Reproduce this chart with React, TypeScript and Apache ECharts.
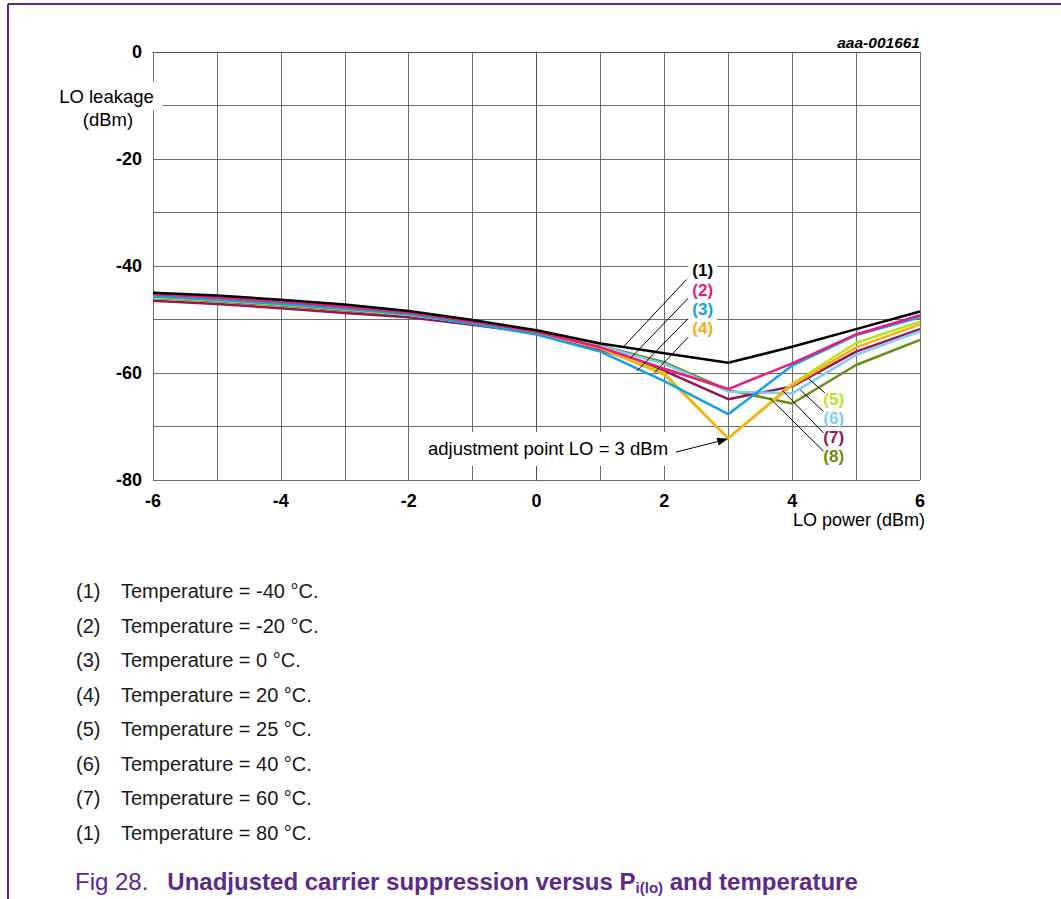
import React, { useEffect, useRef } from "react";
import * as echarts from "echarts";

const loPower = [-6, -5, -4, -3, -2, -1, 0, 1, 2, 3, 4, 5, 6];
const leakT1 = [-45.0, -45.5, -46.3, -47.2, -48.4, -50.1, -52.0, -54.5, -56.3, -58.1, -55.1, -51.8, -48.5];
const leakT2 = [-45.3, -45.9, -46.7, -47.6, -48.7, -50.4, -52.3, -55.2, -59.2, -63.0, -58.2, -52.8, -49.2];
const leakT3 = [-45.7, -46.3, -47.1, -48.0, -49.0, -50.8, -52.8, -56.0, -61.5, -67.7, -58.6, -52.9, -49.6];
const leakT4 = [-45.6, -46.2, -47.0, -47.9, -48.9, -50.6, -52.5, -55.4, -60.3, -72.2, -62.3, -55.2, -50.9];
const leakT5 = [-45.9, -46.4, -47.2, -48.1, -49.1, -50.7, -52.5, -55.2, -60.0, -72.2, -62.0, -54.4, -50.4];
const leakT6 = [-45.8, -46.4, -47.2, -48.1, -49.1, -50.7, -52.4, -55.0, -58.3, -63.5, -63.8, -56.6, -52.2];
const leakT7 = [-46.5, -47.1, -47.9, -48.8, -49.6, -51.0, -52.6, -55.6, -59.6, -64.9, -62.5, -56.0, -51.8];
const leakT8 = [-46.0, -46.6, -47.4, -48.3, -49.3, -50.8, -52.4, -54.9, -58.0, -63.2, -65.7, -58.5, -53.8];

const curveLabels = ["(1)", "(2)", "(3)", "(4)", "(5)", "(6)", "(7)", "(8)"];
const temperatures = ["-40", "-20", "0", "20", "25", "40", "60", "80"];
const legendNumbers = ["(1)", "(2)", "(3)", "(4)", "(5)", "(6)", "(7)", "(1)"];

// label anchor positions (data units) and leader lines
const labelPos: [number, number][] = [
  [2.6, -40.9], [2.6, -44.5], [2.6, -48.1], [2.6, -51.6],
  [4.65, -65.0], [4.65, -68.5], [4.65, -72.0], [4.65, -75.6],
];
const leaders: [number, number, number, number][] = [
  [2.35, -42.5, 1.36, -55.1],
  [2.375, -46.0, 1.47, -57.25],
  [2.375, -49.8, 1.57, -59.6],
  [2.375, -53.3, 1.85, -59.9],
  [4.51, -63.7, 4.25, -61.0],
  [4.49, -67.2, 4.13, -63.2],
  [4.49, -71.2, 3.85, -63.3],
  [4.49, -74.6, 3.65, -64.7],
];
const arrowFrom: [number, number] = [2.18, -74.8];
const arrowTo: [number, number] = [3.0, -72.3];
const adjustLabelPos: [number, number] = [0.18, -74.2];

const FONT = "Liberation Sans, Arial, sans-serif";
const PURPLE = "#5c2a8c";

export default function App() {
  const ref = useRef<HTMLDivElement>(null);
  useEffect(() => {
    const chart = echarts.init(ref.current!, null, { renderer: "svg" });
    const colors = ["#000000", "#ee1a7a", "#14a0e6", "#fbad18", "#b4e620", "#7fcdfa", "#9b1450", "#6a8c12"];
    const all = [leakT1, leakT2, leakT3, leakT4, leakT5, leakT6, leakT7, leakT8];
    const drawOrder = [7, 6, 5, 4, 3, 2, 1, 0];
    const series = drawOrder.map((i) => ({
      type: "line",
      name: curveLabels[i],
      data: loPower.map((x, k) => [x, all[i][k]]),
      showSymbol: false,
      symbol: "none",
      lineStyle: { color: colors[i], width: 2.5 },
      z: 2 + (7 - i),
    }));
    chart.setOption({
      animation: false,
      grid: { left: 153, top: 52, width: 767, height: 428 },
      xAxis: {
        type: "value", min: -6, max: 6, interval: 1,
        axisLine: { lineStyle: { color: "#555", width: 1 } },
        axisTick: { show: false },
        splitLine: { lineStyle: { color: "#6e6e6e", width: 1 } },
        axisLabel: {
          margin: 12, color: "#000", fontFamily: FONT, fontWeight: "bold", fontSize: 18,
          formatter: (v: number) => (v % 2 === 0 ? String(v) : ""),
        },
      },
      yAxis: {
        type: "value", min: -80, max: 0, interval: 10,
        axisLine: { show: true, lineStyle: { color: "#555", width: 1 } },
        axisTick: { show: false },
        splitLine: { lineStyle: { color: "#6e6e6e", width: 1 } },
        axisLabel: {
          margin: 11, color: "#000", fontFamily: FONT, fontWeight: "bold", fontSize: 18,
          formatter: (v: number) => (v % 20 === 0 ? String(v) : ""),
        },
      },
      series,
    });

    const P = (x: number, y: number) => chart.convertToPixel({ gridIndex: 0 }, [x, y]) as number[];
    const g: any[] = [];
    // page frame
    g.push({ type: "line", shape: { x1: 8, y1: 4, x2: 1061, y2: 4 }, style: { stroke: PURPLE, lineWidth: 2 }, z: 100 });
    g.push({ type: "line", shape: { x1: 8, y1: 4, x2: 8, y2: 899 }, style: { stroke: PURPLE, lineWidth: 2 }, z: 100 });
    // id
    g.push({ type: "text", x: 920, y: 42, z: 100, style: { text: "aaa-001661", font: `italic bold 15.5px ${FONT}`, fill: "#000", align: "right", verticalAlign: "middle" } });
    // y axis name
    g.push({
      type: "text", x: 108, y: 96, z: 100,
      style: {
        text: "LO leakage", font: `18.5px ${FONT}`, fill: "#000", align: "center", verticalAlign: "middle",
        backgroundColor: "#fff", padding: [4, 9, 6, 6],
      },
    });
    g.push({
      type: "text", x: 108, y: 119, z: 100,
      style: { text: "(dBm)", font: `18.5px ${FONT}`, fill: "#000", align: "center", verticalAlign: "middle" },
    });
    // x axis name
    g.push({ type: "text", x: 925, y: 520, z: 100, style: { text: "LO power (dBm)", font: `18px ${FONT}`, fill: "#000", align: "right", verticalAlign: "middle" } });
    // leaders
    leaders.forEach((l) => {
      const a = P(l[0], l[1]);
      const b = P(l[2], l[3]);
      g.push({ type: "line", shape: { x1: a[0], y1: a[1], x2: b[0], y2: b[1] }, style: { stroke: "#000", lineWidth: 1 }, z: 100 });
    });
    // curve labels
    labelPos.forEach((p, i) => {
      const c = P(p[0], p[1]);
      g.push({
        type: "text", x: c[0], y: c[1], z: 101,
        style: {
          text: curveLabels[i], font: `bold 17px ${FONT}`, fill: colors[i], align: "center", verticalAlign: "middle",
          backgroundColor: i < 4 ? "#fff" : "transparent", padding: [1, 4, 1, 4],
        },
      });
    });
    // adjustment label and arrow
    const al = P(adjustLabelPos[0], adjustLabelPos[1]);
    g.push({
      type: "text", x: al[0], y: al[1], z: 101,
      style: {
        text: "adjustment point LO = 3 dBm", font: `18.5px ${FONT}`, fill: "#000", align: "center", verticalAlign: "middle",
        backgroundColor: "#fff", padding: [7, 4, 8, 4],
      },
    });
    const af = P(arrowFrom[0], arrowFrom[1]);
    const at = P(arrowTo[0], arrowTo[1]);
    const dx = at[0] - af[0], dy = at[1] - af[1];
    const len = Math.hypot(dx, dy);
    const ux = dx / len, uy = dy / len;
    const hl = 11, hw = 4;
    const bx = at[0] - ux * hl, by = at[1] - uy * hl;
    g.push({ type: "line", shape: { x1: af[0], y1: af[1], x2: bx, y2: by }, style: { stroke: "#000", lineWidth: 1 }, z: 101 });
    g.push({
      type: "polygon", z: 101,
      shape: { points: [[at[0], at[1]], [bx - uy * hw, by + ux * hw], [bx + uy * hw, by - ux * hw]] },
      style: { fill: "#000" },
    });
    // legend list
    temperatures.forEach((t, i) => {
      const y = 591 + i * 34.5;
      g.push({ type: "text", x: 76, y, z: 100, style: { text: legendNumbers[i], font: `20px ${FONT}`, fill: "#1a1a1a", verticalAlign: "middle" } });
      g.push({ type: "text", x: 121, y, z: 100, style: { text: `Temperature = ${t} °C.`, font: `20px ${FONT}`, fill: "#1a1a1a", verticalAlign: "middle" } });
    });
    // caption
    g.push({
      type: "text", x: 75, y: 881, z: 100,
      style: {
        text: "{a|Fig 28.}{gap|}{b|Unadjusted carrier suppression versus P}{s|i(lo)}{b| and temperature}",
        verticalAlign: "middle",
        rich: {
          a: { font: `24px ${FONT}`, fill: PURPLE, lineHeight: 28 },
          gap: { width: 19 },
          b: { font: `bold 24px ${FONT}`, fill: PURPLE, lineHeight: 28 },
          s: { font: `bold 15px ${FONT}`, fill: PURPLE, lineHeight: 15, verticalAlign: "bottom" },
        },
      },
    });
    chart.setOption({ graphic: g });
    return () => chart.dispose();
  }, []);
  return <div ref={ref} style={{ position: "absolute", left: 0, top: 0, width: 1061, height: 899 }} />;
}
